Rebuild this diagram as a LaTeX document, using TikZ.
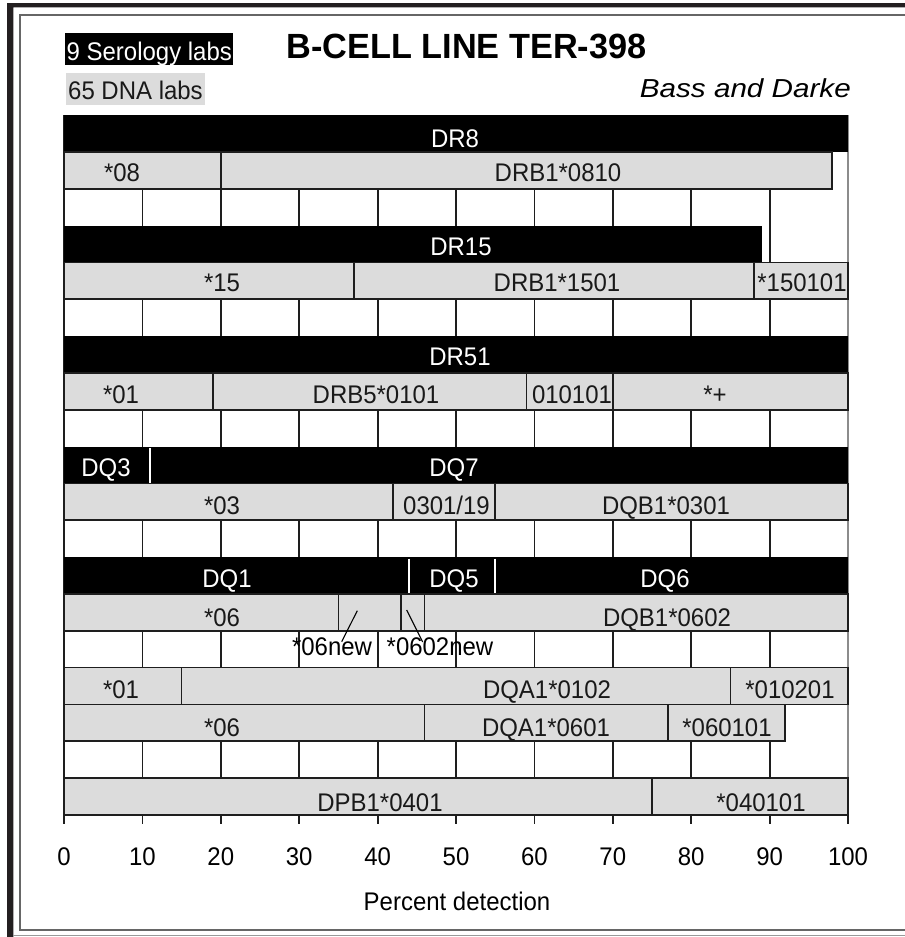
\documentclass[tikz,border=0pt]{standalone}
\usepackage{fontspec}
\setmainfont{Liberation Sans}
\newfontfamily\labfont{Liberation Sans}[FakeStretch=0.94]
\definecolor{barfill}{HTML}{DCDCDC}
\definecolor{edge}{HTML}{1E1E1E}
\definecolor{framedark}{HTML}{231F20}
\begin{document}
\begin{tikzpicture}[x=1bp,y=-1bp,
  graybar/.style={fill=barfill,draw=edge,line width=1.7bp},
  blackbar/.style={fill=black},
  gridline/.style={draw=edge,line width=1.8bp},
  whitesep/.style={draw=white,line width=1.6bp},
  lab/.style={font=\labfont\fontsize{25.5bp}{30bp}\selectfont, anchor=base, inner sep=0pt, text=black!90},
  wlab/.style={lab, text=white},
  leader/.style={draw=black, line width=1.1bp},
]
\useasboundingbox (0,0) rectangle (905,937);
\fill[white] (0,0) rectangle (905,937);
% frame
\fill[framedark] (7,3) -- (905,3) -- (905,7.3) -- (13.3,7.3) -- (13.3,937) -- (7,937) -- cycle;
\draw[black!60, line width=1.4bp] (905,14.8) -- (20,14.8) -- (20,930) -- (905,930);
\draw[black!40, line width=1.4bp] (13.3,935.5) -- (905,935.5);

% header
\node[lab, anchor=base west, fill=black, text=white, inner xsep=1.5bp, inner ysep=0pt,
      text height=27bp, text depth=5bp] (sero) at (65,60) {9 Serology labs};
\node[lab, anchor=base west, fill=barfill, inner xsep=2.5bp, inner ysep=0pt,
      text height=26bp, text depth=6bp] (dna) at (65.5,99) {65 DNA labs};
\node[anchor=base, inner sep=0pt, font=\fontsize{35bp}{40bp}\selectfont\bfseries] (title) at (466.5,58.5) {\scalebox{0.98}[1]{B-CELL LINE TER-398}};
\node[anchor=base east, inner sep=0pt, font=\fontsize{26bp}{30bp}\selectfont\itshape] (auth) at (851,97.5) {\scalebox{1.14}[1]{Bass and Darke}};

\begin{scope}[xshift=64bp, x=7.84bp]
 % grid
 \foreach \p in {10,20,...,90} \draw[gridline] (\p,115) -- (\p,824);
 \draw[gridline] (0,115) -- (0,824);
 \draw[black!45, line width=1.6bp] (100,115) -- (100,815);
 \foreach \p in {0,10,...,100} {
   \draw[gridline] (\p,815) -- (\p,824);
   \node[lab, text=black] (t\p) at (\p,865) {\p};
 }
 % row 1
 \fill[blackbar] (0,115) rectangle (100,151.8);
 % row 2
 \path[graybar] (0,151.8) rectangle (20,188.7);
 \path[graybar] (20,151.8) rectangle (98,188.7);
 % row 4
 \fill[blackbar] (0,225.5) rectangle (89,262.4);
 % row 5
 \path[graybar] (0,262.4) rectangle (37,299.2);
 \path[graybar] (37,262.4) rectangle (88,299.2);
 \path[graybar] (88,262.4) rectangle (100,299.2);
 % row 7
 \fill[blackbar] (0,336.1) rectangle (100,372.9);
 % row 8
 \path[graybar] (0,372.9) rectangle (19,409.7);
 \path[graybar] (19,372.9) rectangle (59,409.7);
 \path[graybar] (59,372.9) rectangle (70,409.7);
 \path[graybar] (70,372.9) rectangle (100,409.7);
 % row 10
 \fill[blackbar] (0,446.6) rectangle (100,483.4);
 \draw[whitesep] (11,448) -- (11,483.4);
 % row 11
 \path[graybar] (0,483.4) rectangle (42,520.3);
 \path[graybar] (42,483.4) rectangle (55,520.3);
 \path[graybar] (55,483.4) rectangle (100,520.3);
 % row 13
 \fill[blackbar] (0,557.1) rectangle (100,594.0);
 \draw[whitesep] (44,558.5) -- (44,594.0);
 \draw[whitesep] (55,558.5) -- (55,594.0);
 % row 14
 \path[graybar] (0,594.0) rectangle (35,630.8);
 \path[graybar] (35,594.0) rectangle (43,630.8);
 \path[graybar] (43,594.0) rectangle (46,630.8);
 \path[graybar] (46,594.0) rectangle (100,630.8);
 % row 16
 \path[graybar] (0,667.6) rectangle (15,704.5);
 \path[graybar] (15,667.6) rectangle (85,704.5);
 \path[graybar] (85,667.6) rectangle (100,704.5);
 % row 17
 \path[graybar] (0,704.5) rectangle (46,741.3);
 \path[graybar] (46,704.5) rectangle (77,741.3);
 \path[graybar] (77,704.5) rectangle (92,741.3);
 % row 19
 \path[graybar] (0,778.2) rectangle (75,815);
 \path[graybar] (75,778.2) rectangle (100,815);
\end{scope}

% bar labels
\node[wlab] (dr8) at (455,147) {DR8};
\node[lab] (l08) at (122,181.8) {*08};
\node[lab] (l0810) at (558,181.8) {DRB1*0810};
\node[wlab] (dr15) at (461,255.5) {DR15};
\node[lab] (l15) at (222,291) {*15};
\node[lab] (l1501) at (557,291) {DRB1*1501};
\node[lab] (l150101) at (802,291) {*150101};
\node[wlab] (dr51) at (460,365) {DR51};
\node[lab] (l01a) at (121,403) {*01};
\node[lab] (l0101) at (376,403) {DRB5*0101};
\node[lab] (l010101) at (572,403) {010101};
\node[lab] (lplus) at (715,403) {*+};
\node[wlab] (dq3) at (106,476.6) {DQ3};
\node[wlab] (dq7) at (454,476.6) {DQ7};
\node[lab] (l03) at (222,514.4) {*03};
\node[lab] (l030119) at (446.5,514.4) {0301/19};
\node[lab] (l0301) at (666,514.4) {DQB1*0301};
\node[wlab] (dq1) at (227,587) {DQ1};
\node[wlab] (dq5) at (454,587) {DQ5};
\node[wlab] (dq6) at (665,587) {DQ6};
\node[lab] (l06a) at (222,626) {*06};
\node[lab] (l0602) at (667,626) {DQB1*0602};
\node[lab, text=black] (new1) at (332,655) {*06new};
\node[lab, text=black] (new2) at (440,655) {*0602new};
\coordinate (s1) at (357.3,610.7);
\coordinate (e1) at (341.7,641.7);
\coordinate (s2) at (406.7,610);
\coordinate (e2) at (422.7,642);
\draw[leader] (s1) -- (e1);
\draw[leader] (s2) -- (e2);
\node[lab] (l01b) at (121,698.6) {*01};
\node[lab] (l0102) at (547,698.6) {DQA1*0102};
\node[lab] (l010201) at (790,698.6) {*010201};
\node[lab] (l06b) at (222,736.5) {*06};
\node[lab] (l0601) at (546,736.5) {DQA1*0601};
\node[lab] (l060101) at (727,736.5) {*060101};
\node[lab] (l0401) at (380,811) {DPB1*0401};
\node[lab] (l040101) at (761,811) {*040101};
\node[lab, text=black] (xlab) at (457,910) {Percent detection};
\end{tikzpicture}
\end{document}
